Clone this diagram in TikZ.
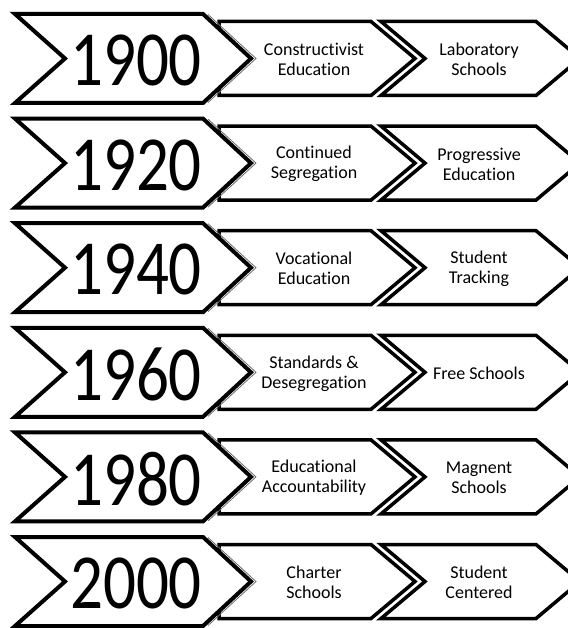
\documentclass[tikz,border=0pt]{standalone}
\usepackage{fontspec}
\setmainfont{Carlito}[Ligatures=CommonOff]
\usepackage{xcolor}
\definecolor{rimgray}{RGB}{110,110,110}

\begin{document}
\begin{tikzpicture}[x=1pt,y=-1pt,
    yearbox/.style={line width=4pt,fill=white,line join=miter},
    itembox/.style={line width=3.5pt,fill=white,line join=miter},
    yeartext/.style={font=\fontsize{65}{65}\selectfont,inner sep=0pt},
    itemtext/.style={font=\fontsize{18}{20}\selectfont,align=center,inner sep=0pt}]
  \useasboundingbox (0,0) rectangle (567,628);

  % 1900
  \begin{scope}[shift={(0,58.5)}]
    \draw[itembox] (219,-37) -- (371,-37) -- (415,0) -- (371,37) -- (219,37) -- cycle;
    \draw[itembox] (381,-37) -- (536,-37) -- (580,0) -- (536,37) -- (381,37) -- (425,0) -- cycle;
    \draw[yearbox] (15,-44.5) -- (203,-44.5) -- (251,0) -- (203,44.5) -- (15,44.5) -- (65,0) -- cycle;
    \draw[rimgray,line width=0.8pt] (208,-44) -- (256,0) -- (208,44);
    \node[yeartext] (y1900) at (136,2) {\scalebox{1}[1.2]{1900}};
    \node[itemtext] (a1900) at (314,1) {Constructivist\\Education};
    \node[itemtext] (b1900) at (479,1) {Laboratory\\Schools};
  \end{scope}

  % 1920
  \begin{scope}[shift={(0,163.1)}]
    \draw[itembox] (219,-37) -- (371,-37) -- (415,0) -- (371,37) -- (219,37) -- cycle;
    \draw[itembox] (381,-37) -- (536,-37) -- (580,0) -- (536,37) -- (381,37) -- (425,0) -- cycle;
    \draw[yearbox] (15,-44.5) -- (203,-44.5) -- (251,0) -- (203,44.5) -- (15,44.5) -- (65,0) -- cycle;
    \draw[rimgray,line width=0.8pt] (208,-44) -- (256,0) -- (208,44);
    \node[yeartext] (y1920) at (136,2) {\scalebox{1}[1.2]{1920}};
    \node[itemtext] (a1920) at (314,1) {Continued\\Segregation};
    \node[itemtext] (b1920) at (479,1) {Progressive\\Education};
  \end{scope}

  % 1940
  \begin{scope}[shift={(0,267.7)}]
    \draw[itembox] (219,-37) -- (371,-37) -- (415,0) -- (371,37) -- (219,37) -- cycle;
    \draw[itembox] (381,-37) -- (536,-37) -- (580,0) -- (536,37) -- (381,37) -- (425,0) -- cycle;
    \draw[yearbox] (15,-44.5) -- (203,-44.5) -- (251,0) -- (203,44.5) -- (15,44.5) -- (65,0) -- cycle;
    \draw[rimgray,line width=0.8pt] (208,-44) -- (256,0) -- (208,44);
    \node[yeartext] (y1940) at (136,2) {\scalebox{1}[1.2]{1940}};
    \node[itemtext] (a1940) at (314,1) {Vocational\\Education};
    \node[itemtext] (b1940) at (479,1) {Student\\Tracking};
  \end{scope}

  % 1960
  \begin{scope}[shift={(0,372.3)}]
    \draw[itembox] (219,-37) -- (371,-37) -- (415,0) -- (371,37) -- (219,37) -- cycle;
    \draw[itembox] (381,-37) -- (536,-37) -- (580,0) -- (536,37) -- (381,37) -- (425,0) -- cycle;
    \draw[yearbox] (15,-44.5) -- (203,-44.5) -- (251,0) -- (203,44.5) -- (15,44.5) -- (65,0) -- cycle;
    \draw[rimgray,line width=0.8pt] (208,-44) -- (256,0) -- (208,44);
    \node[yeartext] (y1960) at (136,2) {\scalebox{1}[1.2]{1960}};
    \node[itemtext] (a1960) at (314,1) {Standards \&\\Desegregation};
    \node[itemtext] (b1960) at (479,1) {Free Schools};
  \end{scope}

  % 1980
  \begin{scope}[shift={(0,476.9)}]
    \draw[itembox] (219,-37) -- (371,-37) -- (415,0) -- (371,37) -- (219,37) -- cycle;
    \draw[itembox] (381,-37) -- (536,-37) -- (580,0) -- (536,37) -- (381,37) -- (425,0) -- cycle;
    \draw[yearbox] (15,-44.5) -- (203,-44.5) -- (251,0) -- (203,44.5) -- (15,44.5) -- (65,0) -- cycle;
    \draw[rimgray,line width=0.8pt] (208,-44) -- (256,0) -- (208,44);
    \node[yeartext] (y1980) at (136,2) {\scalebox{1}[1.2]{1980}};
    \node[itemtext] (a1980) at (314,1) {Educational\\Accountability};
    \node[itemtext] (b1980) at (479,1) {Magnent\\Schools};
  \end{scope}

  % 2000
  \begin{scope}[shift={(0,581.5)}]
    \draw[itembox] (219,-37) -- (371,-37) -- (415,0) -- (371,37) -- (219,37) -- cycle;
    \draw[itembox] (381,-37) -- (536,-37) -- (580,0) -- (536,37) -- (381,37) -- (425,0) -- cycle;
    \draw[yearbox] (15,-44.5) -- (203,-44.5) -- (251,0) -- (203,44.5) -- (15,44.5) -- (65,0) -- cycle;
    \draw[rimgray,line width=0.8pt] (208,-44) -- (256,0) -- (208,44);
    \node[yeartext] (y2000) at (136,2) {\scalebox{1}[1.2]{2000}};
    \node[itemtext] (a2000) at (314,1) {Charter\\Schools};
    \node[itemtext] (b2000) at (479,1) {Student\\Centered};
  \end{scope}
\end{tikzpicture}
\end{document}
